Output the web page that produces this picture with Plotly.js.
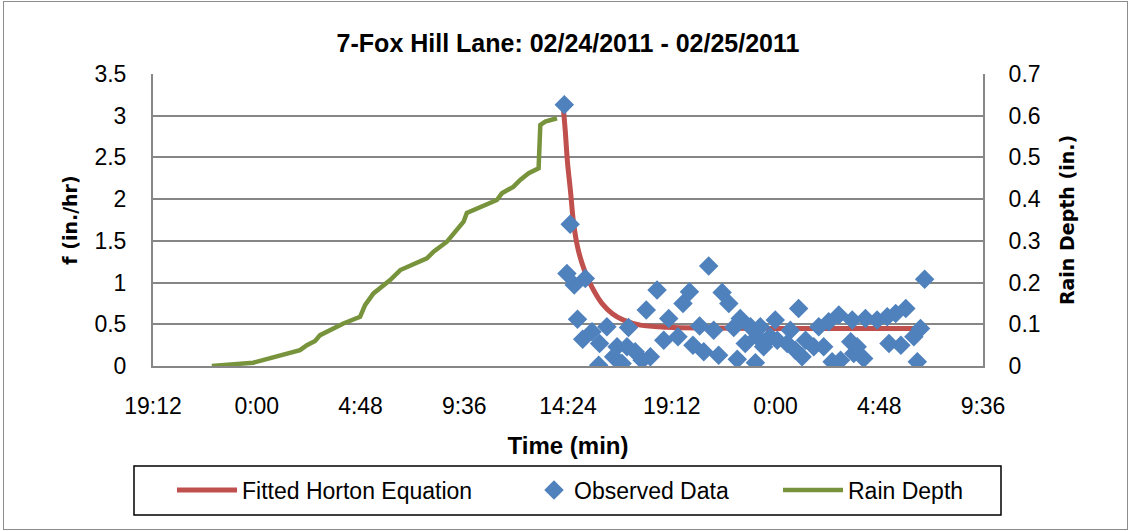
<!DOCTYPE html>
<html>
<head>
<meta charset="utf-8">
<script src="https://cdn.plot.ly/plotly-3.0.1.min.js"></script>
<style>
  html, body { margin: 0; padding: 0; background: #fff; }
  #wrap { position: relative; width: 1130px; height: 531px; }
  #chart { position: absolute; left: 0; top: 0; width: 1130px; height: 531px; }
  #frame { position: absolute; left: 3px; top: 1px; width: 1123px; height: 527px; border: 1px solid #8c8c8c; pointer-events: none; }
</style>
</head>
<body>
<div id="wrap"><div id="chart"></div><div id="frame"></div></div>
<script>
// Time in hours from 00:00 of the first day
const xTickVals = [19.2, 24, 28.8, 33.6, 38.4, 43.2, 48, 52.8, 57.6];
const xTickText = ['19:12', '0:00', '4:48', '9:36', '14:24', '19:12', '0:00', '4:48', '9:36'];

const hortonTime = [38.17, 38.27, 38.38, 38.51, 38.66, 38.84, 39.05, 39.28, 39.58, 39.97, 40.44, 40.97, 41.75, 42.98, 45.0, 48.0, 51.0, 54.39];
const hortonF    = [3.13, 2.83, 2.43, 2.11, 1.71, 1.43, 1.23, 1.07, 0.91, 0.75, 0.63, 0.55, 0.49, 0.465, 0.455, 0.45, 0.45, 0.45];

const obsTime = [38.23, 38.35, 38.50, 38.69, 38.84, 39.08, 39.20, 39.51, 39.82, 39.86, 40.20, 40.51, 40.67, 40.90, 41.13, 41.20, 41.51, 41.83, 42.02, 42.21, 42.52, 42.83, 43.06, 43.49, 43.72, 44.02, 44.18, 44.49, 44.68, 44.91, 45.14, 45.37, 45.53, 45.84, 46.07, 46.23, 46.37, 46.60, 46.84, 47.07, 47.15, 47.30, 47.45, 47.76, 47.99, 48.08, 48.54, 48.69, 48.92, 49.07, 49.23, 49.39, 49.77, 50.00, 50.23, 50.46, 50.62, 50.93, 51.01, 51.48, 51.55, 51.62, 51.78, 52.08, 52.16, 52.70, 53.17, 53.25, 53.56, 53.80, 54.03, 54.40, 54.56, 54.71, 54.90];
const obsF    = [3.13, 1.11, 1.70, 0.97, 0.56, 0.32, 1.05, 0.41, 0.01, 0.27, 0.47, 0.11, 0.23, 0.03, 0.23, 0.46, 0.17, 0.07, 0.67, 0.11, 0.91, 0.31, 0.57, 0.35, 0.75, 0.89, 0.25, 0.48, 0.17, 1.20, 0.43, 0.13, 0.88, 0.75, 0.46, 0.08, 0.57, 0.27, 0.47, 0.04, 0.35, 0.47, 0.23, 0.35, 0.55, 0.31, 0.27, 0.43, 0.19, 0.69, 0.11, 0.31, 0.23, 0.47, 0.23, 0.53, 0.05, 0.61, 0.07, 0.29, 0.55, 0.15, 0.23, 0.09, 0.57, 0.55, 0.59, 0.27, 0.63, 0.25, 0.69, 0.35, 0.05, 0.45, 1.04];

const rainTime  = [21.92, 23.84, 26.0, 26.32, 26.7, 26.93, 28.01, 28.78, 29.01, 29.4, 30.17, 30.64, 31.87, 32.18, 32.8, 33.57, 33.72, 34.65, 35.11, 35.34, 35.88, 36.19, 36.58, 37.04, 37.12, 37.35, 37.89];
const rainDepth = [0, 0.008, 0.038, 0.050, 0.060, 0.074, 0.102, 0.118, 0.146, 0.174, 0.206, 0.230, 0.258, 0.274, 0.298, 0.346, 0.367, 0.386, 0.398, 0.414, 0.430, 0.446, 0.462, 0.474, 0.578, 0.586, 0.594];

const BASE = 'Liberation Sans, Arial, sans-serif';
const GRID = '#868686';

const traces = [
  {
    x: hortonTime, y: hortonF, type: 'scatter', mode: 'lines',
    name: 'Fitted Horton Equation',
    line: {color: '#C0504D', width: 5, shape: 'spline'},
    legend: 'legend'
  },
  {
    x: obsTime, y: obsF, type: 'scatter', mode: 'markers',
    name: 'Observed Data',
    marker: {symbol: 'diamond', size: 15, color: '#4F81BD', line: {width: 0}},
    legend: 'legend2'
  },
  {
    x: rainTime, y: rainDepth, type: 'scatter', mode: 'lines',
    name: 'Rain Depth', yaxis: 'y2',
    line: {color: '#77933C', width: 4.5},
    legend: 'legend3'
  }
];

const legendBase = {
  orientation: 'h', yanchor: 'middle', xanchor: 'left', y: -0.4247,
  font: {family: BASE, size: 23, color: '#000'},
  bgcolor: 'rgba(0,0,0,0)', borderwidth: 0
};

const layout = {
  width: 1130, height: 531,
  margin: {l: 153, r: 147, t: 74, b: 165},
  paper_bgcolor: '#fff', plot_bgcolor: 'rgba(0,0,0,0)',
  font: {family: BASE, color: '#000'},
  showlegend: true,
  title: {
    text: '7-Fox Hill Lane: 02/24/2011 - 02/25/2011',
    font: {family: BASE, size: 25, weight: 'bold', color: '#000'},
    x: 0.5, xref: 'paper', xanchor: 'center',
    y: 1 - 43/531, yref: 'container', yanchor: 'middle'
  },
  xaxis: {
    range: [19.2, 57.6], tickvals: xTickVals, ticktext: xTickText,
    showgrid: false, zeroline: false,
    showline: true, linecolor: GRID, linewidth: 2,
    ticks: '', ticklabelstandoff: 18,
    tickfont: {family: BASE, size: 23, color: '#000'},
    title: {text: 'Time (min)', font: {family: BASE, size: 24, weight: 'bold', color: '#000'}, standoff: 20},
    automargin: false
  },
  yaxis: {
    range: [0, 3.5], dtick: 0.5, tick0: 0,
    showgrid: true, gridcolor: GRID, gridwidth: 2,
    zeroline: false, showline: true, linecolor: GRID, linewidth: 2,
    ticks: '', ticklabelstandoff: 20,
    tickfont: {family: BASE, size: 23, color: '#000'},
    title: {text: 'f (in./hr)', font: {family: 'DejaVu Sans, sans-serif', size: 19, weight: 'bold', color: '#000'}, standoff: 12},
    automargin: false
  },
  yaxis2: {
    range: [0, 0.7], dtick: 0.1, tick0: 0, overlaying: 'y', side: 'right',
    showgrid: true, gridcolor: GRID, gridwidth: 2,
    zeroline: false, showline: true, linecolor: GRID, linewidth: 2,
    ticks: '', ticklabelstandoff: 19,
    tickfont: {family: BASE, size: 23, color: '#000'},
    title: {text: 'Rain Depth (in.)', font: {family: 'DejaVu Sans, sans-serif', size: 19, weight: 'bold', color: '#000'}, standoff: 21},
    automargin: false
  },
  legend:  Object.assign({}, legendBase, {x: (172 - 153)/830, itemwidth: 60}),
  legend2: Object.assign({}, legendBase, {x: (534 - 153)/830, itemwidth: 30}),
  legend3: Object.assign({}, legendBase, {x: (778 - 153)/830, itemwidth: 60}),
  shapes: [
    {type: 'rect', xref: 'paper', yref: 'paper',
     x0: (134 - 153)/830, x1: (1001 - 153)/830,
     y0: (366 - 466)/292, y1: (366 - 515)/292,
     line: {color: '#000', width: 1.5}, fillcolor: 'rgba(0,0,0,0)', layer: 'above'}
  ]
};

Plotly.newPlot('chart', traces, layout, {displayModeBar: false, staticPlot: true});
</script>
</body>
</html>
